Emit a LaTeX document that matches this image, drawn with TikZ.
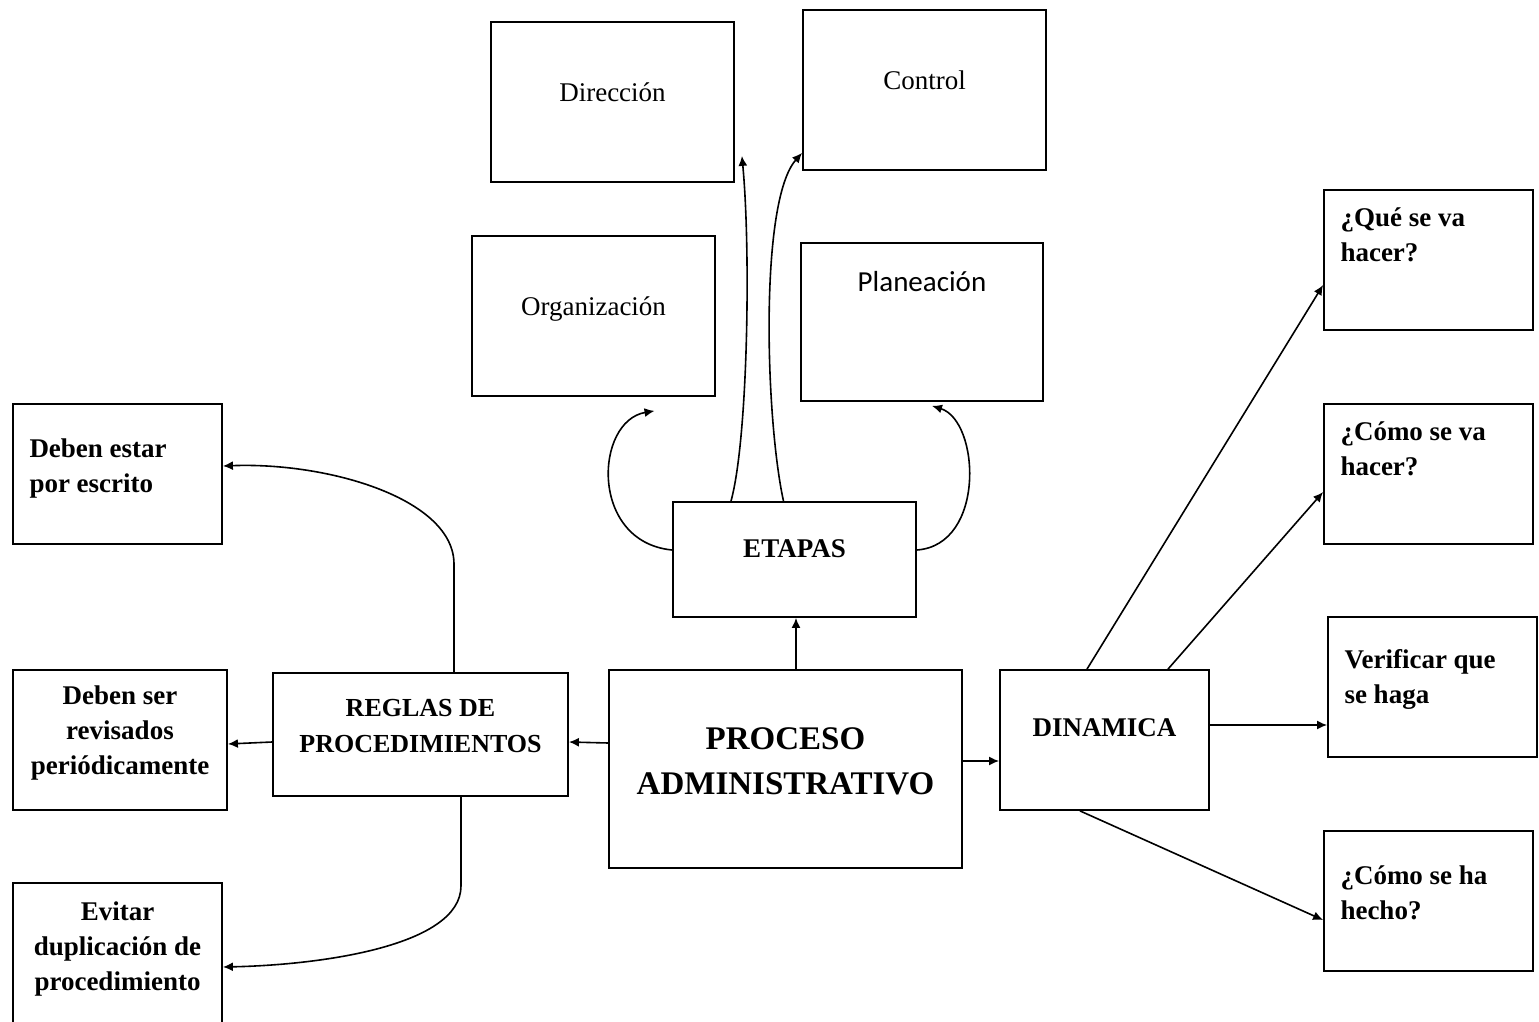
\documentclass[tikz,border=0pt]{standalone}
\usepackage{fontspec}
\setmainfont{Liberation Serif}
\newfontfamily\planfont{Carlito}
\usetikzlibrary{arrows.meta}

\begin{document}
\begin{tikzpicture}[
  x=0.5pt, y=-0.5pt,
  box/.style={rectangle, draw, line width=0.9pt, inner sep=0pt},
  txt/.style={font=\fontsize{13.5}{17.5}\selectfont\bfseries, align=center, inner sep=0pt},
  rtxt/.style={font=\fontsize{13.5}{17.5}\selectfont, inner sep=0pt},
  arr/.style={-{Latex[length=5pt,width=4.5pt]}, line width=0.8pt}
]
  \useasboundingbox (0,0) rectangle (1539,1022);
  % etapas
  \node[box, minimum width=121.5pt, minimum height=80pt,
    label={[rtxt, anchor=base, yshift=-40pt]north:Dirección}] (dir) at (612.5,102) {};
  \node[box, minimum width=121.5pt, minimum height=80pt,
    label={[rtxt, anchor=base, yshift=-40pt]north:Control}] (ctl) at (924.5,90) {};
  \node[box, minimum width=121.5pt, minimum height=80pt,
    label={[rtxt, anchor=base, yshift=-40pt]north:Organización}] (org) at (593.5,316) {};
  \node[box, minimum width=121pt, minimum height=79pt,
    label={[rtxt, font=\fontsize{14.5}{17.5}\selectfont\planfont, anchor=base, yshift=-24.5pt]north:Planeación}] (pla) at (922,322) {};
  \node[box, minimum width=121.5pt, minimum height=57.5pt,
    label={[txt, anchor=base, yshift=-28pt]north:ETAPAS}] (eta) at (794.5,559.5) {};
  % centro
  \node[box, minimum width=176.5pt, minimum height=99pt,
    label={[txt, font=\fontsize{16.5}{22.5}\selectfont\bfseries, anchor=base, yshift=-62.5pt]north:PROCESO\\ADMINISTRATIVO}] (pro) at (785.5,769) {};
  \node[box, minimum width=147.5pt, minimum height=61.5pt,
    label={[txt, font=\fontsize{13}{18}\selectfont\bfseries, anchor=base, yshift=-40pt]north:REGLAS DE\\PROCEDIMIENTOS}] (reg) at (420.5,734.5) {};
  \node[box, minimum width=104.5pt, minimum height=70pt,
    label={[txt, anchor=base, yshift=-33.5pt]north:DINAMICA}] (din) at (1104.5,740) {};
  % reglas
  \node[box, minimum width=104.5pt, minimum height=70pt,
    label={[txt, align=left, anchor=base west, xshift=8.5pt, yshift=-44.5pt]north west:Deben estar\\por escrito}] (est) at (117.5,474) {};
  \node[box, minimum width=107pt, minimum height=70pt,
    label={[txt, anchor=base, yshift=-52.5pt]north:Deben ser\\revisados\\periódicamente}] (rev) at (120,740) {};
  \node[box, minimum width=104.5pt, minimum height=70pt,
    label={[txt, anchor=base, yshift=-54pt]north:Evitar\\duplicación de\\procedimiento}] (evi) at (117.5,953) {};
  % dinamica
  \node[box, minimum width=104.5pt, minimum height=70pt,
    label={[txt, align=left, anchor=base west, xshift=8.5pt, yshift=-36pt]north west:¿Qué se va\\hacer?}] (que) at (1428.5,260) {};
  \node[box, minimum width=104.5pt, minimum height=70pt,
    label={[txt, align=left, anchor=base west, xshift=8.5pt, yshift=-36pt]north west:¿Cómo se va\\hacer?}] (com) at (1428.5,474) {};
  \node[box, minimum width=104.5pt, minimum height=70pt,
    label={[txt, align=left, anchor=base west, xshift=8.5pt, yshift=-43.5pt]north west:Verificar que\\se haga}] (ver) at (1432.5,687) {};
  \node[box, minimum width=104.5pt, minimum height=70pt,
    label={[txt, align=left, anchor=base west, xshift=8.5pt, yshift=-44.5pt]north west:¿Cómo se ha\\hecho?}] (hec) at (1428.5,901) {};

  % conectores
  \draw[arr] ([xshift=5.25pt]pro.north) -- ([xshift=0.75pt]eta.south);
  \draw[arr] ([yshift=4.75pt]eta.west) .. controls +(-83,-8) and +(-60,10) .. ([shift={(61,14)}]org.south);
  \draw[arr] ([yshift=4.75pt]eta.east) .. controls +(69,-5) and +(48,15) .. ([shift={(10,4)}]pla.south);
  \draw[arr] ([xshift=-31.75pt]eta.north) .. controls +(17,-62) and +(9,95) .. ([shift={(7,-27)}]dir.south east);
  \draw[arr] ([xshift=-5.5pt]eta.north) .. controls +(-18,-82) and +(-43,48) .. ([yshift=9pt]ctl.south west);
  \draw[arr] ([yshift=13pt]pro.west) -- ([yshift=-3.75pt]reg.west -| reg.east);
  \draw[arr] ([yshift=-3.75pt]reg.west) -- ([yshift=-2pt]rev.east);
  \draw[arr] ([xshift=16.75pt]reg.north) -- ++(0,-108) .. controls +(0,-65) and +(106,-4) .. ([yshift=4pt]est.east);
  \draw[arr] ([xshift=20.25pt]reg.south) -- ++(0,89) .. controls +(0,60) and +(98,-2) .. ([yshift=-7pt]evi.east);
  \draw[arr] ([yshift=4pt]pro.east) -- ([yshift=-10.5pt]din.west);
  \draw[arr] ([xshift=-8.75pt]din.north) -- ([yshift=-12.5pt]que.west);
  \draw[arr] ([xshift=31.75pt]din.north) -- ([yshift=-9pt]com.west);
  \draw[arr] ([yshift=7.5pt]din.east) -- ([yshift=-19pt]ver.west);
  \draw[arr] ([xshift=-12.25pt]din.south) -- ([yshift=-9.5pt]hec.west);
\end{tikzpicture}
\end{document}
